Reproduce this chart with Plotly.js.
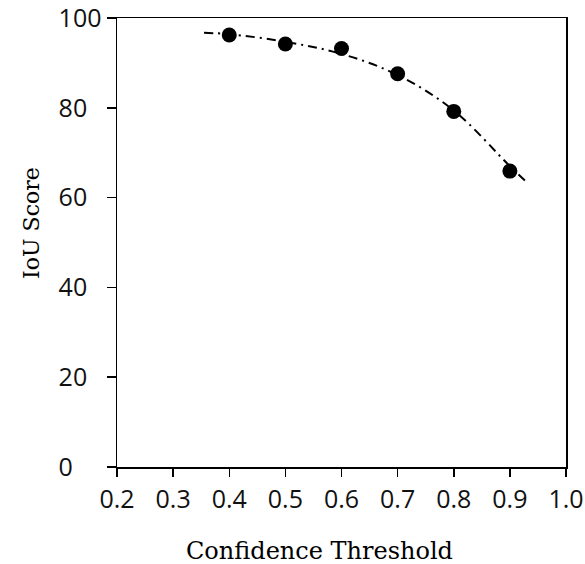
<!DOCTYPE html>
<html>
<head>
<meta charset="utf-8">
<script src="https://cdn.plot.ly/plotly-3.0.1.min.js"></script>
<style>html,body{margin:0;padding:0;background:#fff;}</style>
</head>
<body>
<div id="chart" style="width:585px;height:564px;"></div>
<script>
// Measured points
const thresholds = [0.4, 0.5, 0.6, 0.7, 0.8, 0.9];
const iouScores = [96.2, 94.2, 93.2, 87.6, 79.2, 65.9];
// Trend line
const trendX = [0.355, 0.4, 0.5, 0.6, 0.7, 0.8, 0.9, 0.932];
const trendY = [96.7, 96.4, 94.7, 92.0, 87.3, 79.4, 67.0, 63.2];
const xTicks = [0.2, 0.3, 0.4, 0.5, 0.6, 0.7, 0.8, 0.9, 1.0];
const xTickLabels = ["0.2", "0.3", "0.4", "0.5", "0.6", "0.7", "0.8", "0.9", "1.0"];
const yTicks = [0, 20, 40, 60, 80, 100];
// y labels are left-aligned in the reference: pad with figure spaces
const yTickLabels = ["0\u2007\u2007", "20\u2007", "40\u2007", "60\u2007", "80\u2007", "100"];
const xTitle = "Confidence Threshold";
const yTitle = "IoU Score";

const tickFont = {family: "Open Sans", size: 25, color: "#111"};

const data = [
  {x: trendX, y: trendY, mode: "lines", type: "scatter",
   line: {color: "#000", width: 2, dash: "9px,5px,2px,5px", shape: "spline"},
   hoverinfo: "skip", showlegend: false},
  {x: thresholds, y: iouScores, mode: "markers", type: "scatter",
   marker: {color: "#000", size: 15}, showlegend: false}
];

const layout = {
  width: 585, height: 564,
  font: {family: "Open Sans", size: 25, color: "#111"},
  margin: {l: 117, r: 19, t: 18, b: 97},
  paper_bgcolor: "#fff", plot_bgcolor: "#fff",
  showlegend: false,
  xaxis: {range: [0.2, 1.0], tickvals: xTicks, ticktext: xTickLabels,
    showgrid: false, zeroline: false, showline: true, linecolor: "#000", linewidth: 1.5,
    mirror: true, ticks: "outside", ticklen: 8, tickwidth: 1.5, tickcolor: "#000",
    tickfont: tickFont, ticklabelstandoff: 1, ticklabeloverflow: "allow"},
  yaxis: {range: [0, 100], tickvals: yTicks, ticktext: yTickLabels,
    showgrid: false, zeroline: false, showline: true, linecolor: "#000", linewidth: 1.5,
    mirror: true, ticks: "outside", ticklen: 9, tickwidth: 1.5, tickcolor: "#000",
    tickfont: tickFont, ticklabelstandoff: 0, ticklabeloverflow: "allow"},
  annotations: [
    {text: xTitle, xref: "paper", yref: "paper", x: 0.452, y: -0.187,
     xanchor: "center", yanchor: "middle", showarrow: false,
     font: {family: "DejaVu Serif", size: 24, color: "#000"}},
    {text: yTitle, xref: "paper", yref: "paper", x: -0.19, y: 0.543,
     xanchor: "center", yanchor: "middle", showarrow: false, textangle: -90,
     font: {family: "DejaVu Serif", size: 22, color: "#000"}}
  ]
};

Plotly.newPlot("chart", data, layout, {displayModeBar: false, staticPlot: true});
</script>
</body>
</html>
